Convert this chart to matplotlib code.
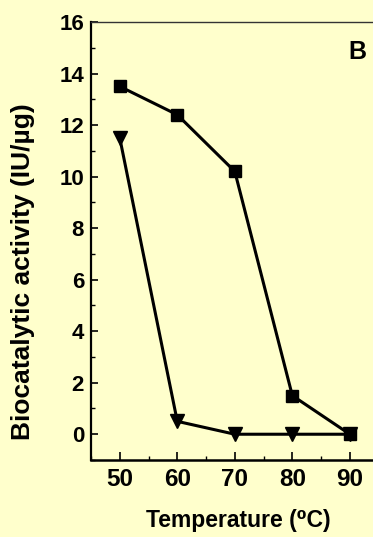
import matplotlib
matplotlib.use("Agg")
import matplotlib.pyplot as plt
from matplotlib.ticker import MultipleLocator

temperature = [50, 60, 70, 80, 90]
series_square = [13.5, 12.4, 10.2, 1.5, 0.0]
series_triangle = [11.5, 0.5, 0.0, 0.0, 0.0]
x_ticks = [50, 60, 70, 80, 90]
y_ticks = [0, 2, 4, 6, 8, 10, 12, 14, 16]

bg = "#FFFFCC"
plt.rcParams['font.family'] = ['Liberation Sans', 'DejaVu Sans']
plt.rcParams['font.weight'] = 'bold'

fig = plt.figure(figsize=(3.73, 5.37), dpi=100, facecolor=bg)
ax = fig.add_axes([0.244, 0.1434, 0.771, 0.8156])
ax.set_facecolor(bg)

ax.plot(temperature, series_triangle, color='black', lw=2.2, marker='v',
        markersize=10, zorder=3)
ax.plot(temperature, series_square, color='black', lw=2.2, marker='s',
        markersize=8.5, zorder=4)

ax.set_xlim(45, 95)
ax.set_ylim(-1, 16)
ax.set_xticks(x_ticks)
ax.set_yticks(y_ticks)
ax.xaxis.set_minor_locator(MultipleLocator(5))
ax.yaxis.set_minor_locator(MultipleLocator(1))
ax.tick_params(which='major', direction='in', length=5, width=1.2)
ax.tick_params(which='minor', direction='in', length=3, width=1.0)
ax.tick_params(axis='y', which='major', labelsize=16, pad=5)
ax.tick_params(axis='x', which='major', length=6, labelsize=17.5, pad=6)
for lab in ax.get_xticklabels() + ax.get_yticklabels():
    lab.set_fontweight('bold')

ax.spines['left'].set_linewidth(1.6)
ax.spines['bottom'].set_linewidth(1.8)
ax.spines['top'].set_linewidth(1.0)
ax.spines['top'].set_color('#333333')
ax.spines['right'].set_visible(False)

fig.text(23/373, 1-272/537, 'Biocatalytic activity (IU/µg)', rotation=90,
         ha='center', va='center', fontsize=19, fontweight='bold')
fig.text(238/373, 1-520/537, 'Temperature (⁰C)', ha='center', va='center',
         fontsize=16.5, fontweight='bold')
fig.text(357/373, 1-52/537, 'B', ha='center', va='center',
         fontsize=18, fontweight='bold')

fig.savefig('out.png', dpi=100, facecolor=bg)
